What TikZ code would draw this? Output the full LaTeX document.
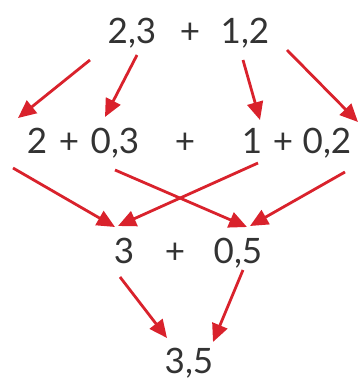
\documentclass[tikz,border=0pt]{standalone}
\usepackage{fontspec}
\setmainfont{Lato}
\usetikzlibrary{arrows.meta}
\definecolor{arrred}{HTML}{D9222C}
\definecolor{txt}{HTML}{333333}
\begin{document}
\begin{tikzpicture}[x=1pt,y=-1pt,
  num/.style={anchor=base,inner sep=0pt,text=txt,font=\fontsize{35}{40}\selectfont},
  arr/.style={draw=arrred,line width=2.8pt,-{Triangle[length=18pt,width=16pt]}}]
\useasboundingbox (0,0) rectangle (359,378);
% row 1
\node[num] (a1) at (132,43) {2,3};
\node[num] (ap) at (190,43) {+};
\node[num] (a2) at (245,43) {1,2};
% row 2
\node[num] (b1) at (37,153) {2};
\node[num] (bp1) at (69,153) {+};
\node[num] (b2) at (115,153) {0,3};
\node[num] (bp) at (185,153) {+};
\node[num] (b3) at (252,153) {1};
\node[num] (bp2) at (283,153) {+};
\node[num] (b4) at (327,153) {0,2};
% row 3
\node[num] (c1) at (124,263) {3};
\node[num] (cp) at (175,263) {+};
\node[num] (c2) at (238,263) {0,5};
% row 4
\node[num] (d1) at (189,373) {3,5};
% arrow endpoints
\coordinate (s1) at (90,60);   \coordinate (e1) at (18,118);
\coordinate (s2) at (137,55);  \coordinate (e2) at (105,117);
\coordinate (s3) at (243,60);  \coordinate (e3) at (260,120);
\coordinate (s4) at (287,50);  \coordinate (e4) at (358,122);
\coordinate (s5) at (13,168);  \coordinate (e5) at (115,227);
\coordinate (s6) at (115,170); \coordinate (e6) at (247,227);
\coordinate (s7) at (258,163); \coordinate (e7) at (118,226);
\coordinate (s8) at (345,172); \coordinate (e8) at (250,226);
\coordinate (s9) at (120,277); \coordinate (e9) at (167,338);
\coordinate (s10) at (243,270); \coordinate (e10) at (213,342);
\foreach \i in {1,...,10} \draw[arr] (s\i) -- (e\i);
\end{tikzpicture}
\end{document}
